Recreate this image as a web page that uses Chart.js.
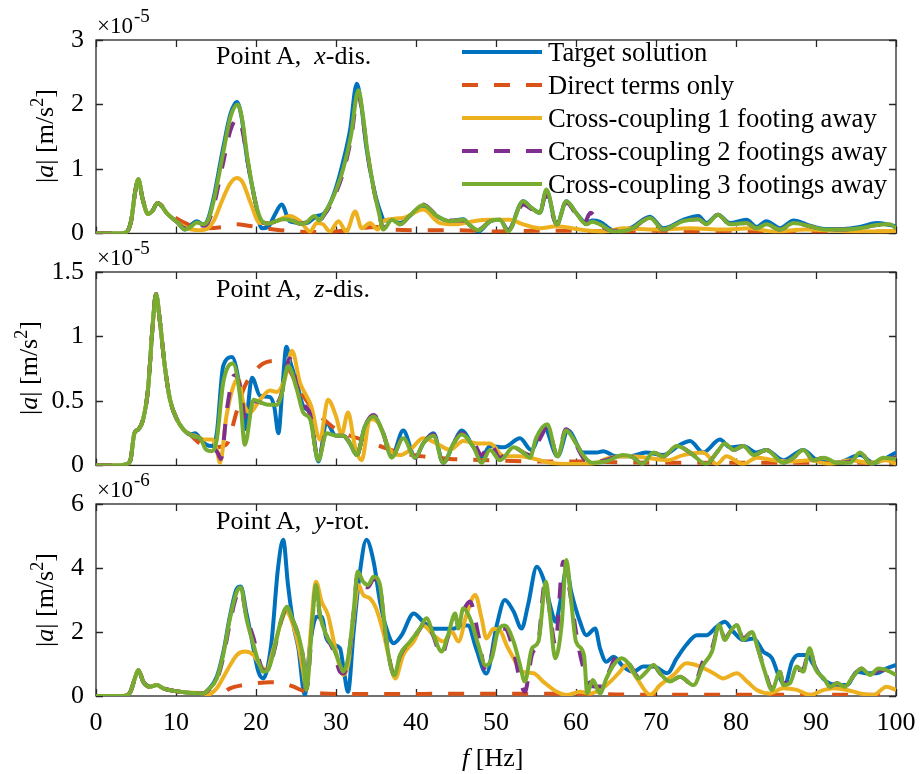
<!DOCTYPE html>
<html>
<head>
<meta charset="utf-8">
<script src="https://cdn.jsdelivr.net/npm/chart.js@4.4.1/dist/chart.umd.min.js"></script>
<style>
  body { margin: 0; background: #fff; }
  #fig { position: relative; width: 920px; height: 774px; overflow: hidden;
         font-family: "Liberation Serif", "Times New Roman", serif; color: #000; }
  #fig canvas { position: absolute; left: 0; }
  .txt { position: absolute; font-size: 26px; line-height: 1; white-space: pre; }
  .expo { position: absolute; font-size: 23px; line-height: 1; white-space: pre; left: 97px; }
  .expo span { font-size: 19px; position: relative; top: -11px; margin-left: 1px; }
  .ylab { position: absolute; left: 45px; font-size: 26px; line-height: 1; white-space: pre;
          transform: translate(-50%, -50%) rotate(-90deg); }
  .ylab sup { font-size: 18px; line-height: 0; }
  .leg { position: absolute; left: 462px; height: 33px; }
  .leg svg { position: absolute; left: 0; top: 0; }
  .leg span { position: absolute; left: 86px; top: 0; font-size: 26.6px; line-height: 1; white-space: pre; }
</style>
</head>
<body>
<div id="fig">
  <canvas id="c1" width="920" height="261" style="top:0px"></canvas>
  <canvas id="c2" width="920" height="261" style="top:232px"></canvas>
  <canvas id="c3" width="920" height="310" style="top:464px"></canvas>

  <div class="expo" style="top:14px">×10<span>-5</span></div>
  <div class="expo" style="top:246px">×10<span>-5</span></div>
  <div class="expo" style="top:478px">×10<span>-6</span></div>

  <div class="ylab" style="top:136px">|<i>a</i>| [m/s<sup>2</sup>]</div>
  <div class="ylab" style="top:368px; left:29px">|<i>a</i>| [m/s<sup>2</sup>]</div>
  <div class="ylab" style="top:600px">|<i>a</i>| [m/s<sup>2</sup>]</div>

  <div class="txt" style="left:216px; top:43px">Point A,  <i>x</i>-dis.</div>
  <div class="txt" style="left:216px; top:276px">Point A,  <i>z</i>-dis.</div>
  <div class="txt" style="left:216px; top:508px">Point A,  <i>y</i>-rot.</div>

  <div class="txt" style="left:462px; top:745px"><i>f</i> [Hz]</div>

  <div id="legend"></div>
</div>

<script>
// series
const seriesNames = ['Target solution', 'Direct terms only', 'Cross-coupling 1 footing away',
                     'Cross-coupling 2 footings away', 'Cross-coupling 3 footings away'];
const seriesColors = ['#0072BD', '#D95319', '#EDB120', '#7E2F8E', '#77AC30'];
const seriesDash = [[], [16, 16], [], [16, 16], []];

// tick labels
const freqTicks = [0, 10, 20, 30, 40, 50, 60, 70, 80, 90, 100];
const topTicks = [0, 1, 2, 3];        // x 1e-5
const midTicks = [0, 0.5, 1, 1.5];    // x 1e-5
const botTicks = [0, 2, 4, 6];        // x 1e-6

// ---- Point A, x-dis. (x 1e-5) : [f Hz, |a|]
const topCommon = [[0,0],[3,0],[3.8,0.02],[4.4,0.2],[4.9,0.65],[5.3,0.84],[5.8,0.55],[6.5,0.3],[7,0.34],[7.7,0.47],[8.3,0.41],[8.8,0.32],[9.5,0.24],[10.2,0.17]];
const topTarget = topCommon.concat([[11.1,0.06],[11.8,0.12],[12.6,0.19],[13.4,0.14],[14,0.22],[14.7,0.55],[15.9,1.33],[16.8,1.85],[17.6,2.04],[18.2,1.8],[18.8,1.23],[19.9,0.5],[20.7,0.08],[21.5,0.1],[22.4,0.3],[23.2,0.45],[24.2,0.19],[25.1,0.17],[26.3,0.16],[27.6,0.27],[28.4,0.3],[29.2,0.45],[30,0.71],[30.8,1.07],[31.75,1.6],[32.6,2.32],[33.2,1.95],[33.8,1.33],[34.7,0.71],[35.5,0.35],[36.1,0.2],[37,0.21],[38,0.16],[39.2,0.27],[40.9,0.42],[42.6,0.27],[44.2,0.19],[45.9,0.22],[46.8,0.12],[47.8,0.03],[49.3,0.19],[50.5,0.21],[51.5,0.05],[53.4,0.5],[54.4,0.4],[55.5,0.32],[56.3,0.66],[57.6,0.14],[58.8,0.5],[60,0.32],[61.3,0.16],[62,0.2],[63,0.18],[64.7,0.05],[66.75,0.08],[69.25,0.26],[70.9,0.08],[73.4,0.21],[75.3,0.27],[76.3,0.16],[77.75,0.29],[79.25,0.16],[81.3,0.21],[82.6,0.1],[83.8,0.19],[85.5,0.08],[87.2,0.2],[89.25,0.12],[91,0.07],[93.4,0.07],[95.5,0.1],[97.6,0.16],[99.25,0.13],[100,0.11]]);
const topDirect = topCommon.slice(0, 10).concat([[8.5,0.4],[9.5,0.28],[10.5,0.2],[12,0.12],[14,0.08],[16,0.1],[17.6,0.14],[19,0.12],[21,0.08],[23,0.05],[25,0.03],[28,0.02],[31,0.04],[33,0.08],[35,0.1],[37,0.06],[40,0.05],[45,0.05],[50,0.03],[55,0.04],[60,0.04],[65,0.03],[70,0.04],[75,0.03],[80,0.04],[85,0.03],[90,0.03],[95,0.03],[100,0.03]]);
const topCC1 = topCommon.concat([[11.1,0.1],[12,0.06],[13,0.05],[14,0.08],[14.7,0.19],[15.9,0.55],[16.8,0.78],[17.6,0.86],[18.3,0.8],[19.25,0.5],[20.5,0.16],[21.75,0.16],[23.4,0.24],[24.25,0.27],[25.5,0.19],[26.75,0.03],[27.6,0.16],[28.4,0.14],[29.25,0.03],[30.3,0.19],[31.3,0.03],[32.4,0.34],[33.2,0.08],[34.25,0.16],[35.2,0.06],[35.9,0.19],[38.4,0.24],[40.9,0.37],[43,0.16],[45,0.14],[47.2,0.19],[49.25,0.21],[51.75,0.21],[53.4,0.14],[55.5,0.08],[57.6,0.11],[60.5,0.06],[63.5,0.03],[65.9,0.08],[70,0.06],[74.25,0.08],[78.4,0.06],[81.75,0.08],[84.7,0.03],[88.8,0.06],[93,0.04],[97.2,0.03],[100,0.04]]);
const topCC2 = topCommon.concat([[11.1,0.08],[11.8,0.1],[12.6,0.15],[13.4,0.12],[14,0.17],[14.7,0.42],[15.9,1.1],[16.8,1.6],[17.7,1.78],[18.3,1.6],[18.9,1.15],[19.9,0.5],[20.7,0.2],[21.5,0.15],[22.5,0.19],[23.5,0.22],[24.5,0.2],[25.5,0.15],[26.3,0.17],[27.3,0.25],[27.9,0.2],[28.5,0.28],[29.3,0.44],[30.1,0.66],[30.9,0.95],[31.85,1.45],[32.8,2.15],[33.4,1.75],[33.9,1.28],[34.7,0.7],[35.4,0.3],[35.9,0.08],[37,0.21],[38,0.14],[39.2,0.27],[40.9,0.45],[42.6,0.28],[44.2,0.2],[45.9,0.2],[46.8,0.12],[47.8,0.06],[49.3,0.19],[50.5,0.21],[51.5,0.04],[53.4,0.45],[54.4,0.38],[55.5,0.32],[56.2,0.6],[57.6,0.14],[58.8,0.48],[60,0.3],[61,0.15],[61.8,0.32],[63,0.14],[64.7,0.04],[66.75,0.06],[69.25,0.24],[70.9,0.06],[73.4,0.19],[75.3,0.22],[76.3,0.14],[77.75,0.29],[79.25,0.14],[81.3,0.16],[82.6,0.08],[83.8,0.14],[85.5,0.06],[87.2,0.16],[89.25,0.11],[91,0.06],[93.4,0.06],[95.5,0.08],[97.6,0.13],[99.25,0.14],[100,0.08]]);
const topCC3 = topCommon.concat([[11.1,0.06],[11.8,0.1],[12.6,0.17],[13.4,0.14],[14,0.2],[14.7,0.5],[15.9,1.25],[16.8,1.8],[17.7,2.0],[18.3,1.75],[18.9,1.2],[19.9,0.5],[20.7,0.2],[21.5,0.15],[22.5,0.19],[23.5,0.22],[24.5,0.2],[25.5,0.15],[26.3,0.17],[27.3,0.27],[27.9,0.2],[28.5,0.3],[29.3,0.47],[30.1,0.7],[30.9,1.0],[31.85,1.5],[32.8,2.22],[33.4,1.8],[33.9,1.3],[34.7,0.7],[35.4,0.3],[35.9,0.06],[37,0.21],[38,0.14],[39.2,0.27],[40.9,0.44],[42.6,0.27],[44.2,0.19],[45.9,0.21],[46.8,0.12],[47.8,0.05],[49.3,0.19],[50.5,0.21],[51.5,0.03],[53.4,0.5],[54.4,0.4],[55.5,0.32],[56.3,0.68],[57.6,0.14],[58.8,0.5],[60,0.32],[61.3,0.14],[62,0.18],[63,0.14],[64.7,0.03],[66.75,0.06],[69.25,0.24],[70.9,0.06],[73.4,0.19],[75.3,0.22],[76.3,0.14],[77.75,0.29],[79.25,0.14],[81.3,0.16],[82.6,0.08],[83.8,0.14],[85.5,0.06],[87.2,0.16],[89.25,0.11],[91,0.06],[93.4,0.06],[95.5,0.08],[97.6,0.13],[99.25,0.14],[100,0.08]]);

// ---- Point A, z-dis. (x 1e-5)
const midCommon = [[0,0],[3,0],[3.8,0.01],[4.3,0.04],[4.8,0.25],[5.3,0.28],[5.9,0.36],[6.5,0.59],[7.1,1.1],[7.5,1.33],[8,1.11],[8.6,0.77],[9.25,0.51],[10.1,0.36],[10.9,0.28],[11.75,0.24]];
const midTarget = midCommon.concat([[12.4,0.25],[13,0.21],[13.8,0.16],[14.5,0.15],[15.1,0.25],[15.9,0.77],[17,0.84],[18,0.59],[18.6,0.28],[19.5,0.68],[20.5,0.54],[21.75,0.53],[22.3,0.45],[22.8,0.25],[23.3,0.6],[23.8,0.92],[24.3,0.8],[25.1,0.64],[25.9,0.46],[26.75,0.4],[27.8,0.03],[28.8,0.33],[30,0.23],[30.9,0.23],[31.75,0.17],[32.6,0.08],[33.6,0.3],[34.7,0.38],[35.9,0.25],[36.96,0.07],[38.4,0.27],[39.9,0.06],[40.9,0.17],[42.2,0.25],[43.4,0.02],[44.7,0.17],[45.7,0.27],[47.2,0.14],[48.2,0.06],[49.25,0.15],[51,0.14],[53,0.21],[54.4,0.12],[56,0.3],[57.7,0.07],[59,0.27],[60.9,0.1],[62.6,0.1],[63.4,0.11],[65,0.07],[66.75,0.07],[68.75,0.1],[70.9,0.08],[73,0.16],[74.25,0.19],[75.9,0.1],[78,0.2],[79.25,0.14],[80.9,0.15],[82.6,0.1],[83.8,0.12],[85.9,0.04],[88.4,0.12],[90.1,0.04],[92.6,0.02],[95.5,0.08],[97.2,0.02],[100,0.1]]);
const midDirect = midCommon.concat([[13,0.17],[14.5,0.14],[15.9,0.15],[16.5,0.18],[17.5,0.4],[18.5,0.6],[19.7,0.72],[20.9,0.79],[22.4,0.81],[23.4,0.8],[24.25,0.73],[25.5,0.58],[27.2,0.43],[28.4,0.36],[30,0.28],[31.75,0.23],[33.8,0.19],[35.9,0.14],[38,0.1],[40.9,0.07],[44.25,0.05],[49.25,0.04],[55,0.03],[60,0.03],[70,0.02],[80,0.02],[90,0.02],[100,0.02]]);
const midCC1 = midCommon.concat([[12.4,0.23],[13,0.21],[13.8,0.2],[14.5,0.2],[15.1,0.12],[15.5,0.02],[16.3,0.38],[17.2,0.62],[17.8,0.67],[18.4,0.49],[19.25,0.41],[20.5,0.51],[21.75,0.58],[22.6,0.57],[23.6,0.67],[24.5,0.89],[25.5,0.64],[26.3,0.54],[26.9,0.46],[28,0.2],[29,0.51],[30,0.38],[30.7,0.24],[31.5,0.41],[32.4,0.14],[33.2,0.04],[34.25,0.36],[35.3,0.33],[36.75,0.12],[38,0.08],[39.25,0.12],[40.9,0.21],[42.6,0.17],[44.25,0.12],[45.9,0.19],[47.75,0.17],[49.25,0.17],[51,0.07],[52.6,0.07],[54.25,0.06],[56.75,0.02],[59,0.01],[61.75,0.01],[64.25,0.06],[66.75,0.07],[68.75,0.06],[71.4,0.04],[73.4,0.08],[75.9,0.1],[77.6,0.01],[78.8,0.07],[80.9,0.01],[82.6,0.06],[84.7,0.04],[86.75,0.03],[89.25,0.04],[91.7,0.01],[94.25,0.04],[96.75,0.02],[98.8,0.04],[100,0.01]]);
const midCC2 = midCommon.concat([[12.4,0.22],[13,0.21],[13.8,0.15],[14.5,0.14],[15.2,0.1],[15.6,0.05],[16.4,0.45],[17.3,0.7],[18,0.62],[18.7,0.35],[19.7,0.5],[20.5,0.49],[21.5,0.47],[22.6,0.48],[23.4,0.6],[24.2,0.83],[25.1,0.62],[25.9,0.48],[26.75,0.4],[27.8,0.05],[28.8,0.26],[30,0.23],[30.9,0.23],[31.75,0.17],[32.6,0.08],[33.6,0.3],[34.7,0.39],[35.9,0.25],[36.96,0.06],[38.4,0.22],[39.9,0.06],[40.9,0.17],[42.2,0.24],[43.4,0.02],[44.7,0.17],[45.7,0.25],[47.2,0.18],[48.2,0.08],[49.25,0.17],[50.5,0.06],[52.2,0.14],[53.4,0.1],[54.25,0.08],[55.6,0.22],[56.4,0.3],[57.7,0.08],[58.75,0.28],[60,0.16],[61,0.05],[62,0.02],[63.7,0.04],[65.9,0.08],[67.2,0.06],[68.25,0.01],[69.7,0.1],[70.9,0.07],[72.6,0.15],[74.25,0.1],[76.3,0.01],[77.6,0.1],[78.6,0.17],[79.7,0.12],[80.9,0.15],[82.2,0.08],[83.8,0.12],[85.9,0.02],[87.2,0.06],[88.4,0.12],[89.7,0.04],[91,0.06],[92.6,0.02],[94.25,0.03],[95.5,0.1],[96.96,0.01],[98.4,0.06],[100,0.06]]);
const midCC3 = midCommon.concat([[12.4,0.22],[13,0.21],[13.8,0.12],[14.5,0.11],[15.1,0.2],[15.9,0.64],[17.1,0.79],[18,0.54],[18.6,0.16],[19.7,0.51],[20.5,0.49],[21.5,0.47],[22.6,0.47],[23.2,0.55],[24,0.77],[25.1,0.59],[25.9,0.41],[26.75,0.36],[27.8,0.04],[28.8,0.25],[30,0.23],[30.9,0.23],[31.75,0.17],[32.6,0.08],[33.6,0.3],[34.7,0.38],[35.9,0.25],[36.96,0.06],[38.4,0.21],[39.9,0.06],[40.9,0.17],[42.2,0.23],[43.4,0.02],[44.7,0.17],[45.7,0.24],[47.2,0.14],[48.2,0.02],[49.25,0.12],[50.5,0.04],[52.2,0.14],[53.4,0.1],[54.25,0.06],[55,0.21],[56.4,0.32],[57.7,0.07],[58.75,0.27],[60,0.17],[61,0.07],[62,0.02],[63.7,0.03],[65.9,0.08],[67.2,0.06],[68.25,0.01],[69.7,0.1],[70.9,0.07],[72.6,0.15],[74.25,0.1],[76.3,0.01],[77.6,0.1],[78.6,0.17],[79.7,0.12],[80.9,0.15],[82.2,0.08],[83.8,0.12],[85.9,0.02],[87.2,0.06],[88.4,0.12],[89.7,0.04],[91,0.06],[92.6,0.02],[94.25,0.02],[95.5,0.1],[96.96,0.01],[98.4,0.06],[100,0.05]]);

// ---- Point A, y-rot. (x 1e-6)
const botCommon = [[0,0],[3,0],[3.8,0.02],[4.3,0.13],[5,0.66],[5.3,0.81],[5.9,0.45],[6.75,0.29],[7.6,0.34],[8.4,0.24],[9.7,0.16],[11.3,0.11],[13.4,0.08]];
const botTarget = botCommon.concat([[14,0.19],[15.1,0.6],[15.9,1.35],[16.75,2.5],[17.6,3.35],[18.1,3.42],[18.8,2.6],[19.3,2.0],[20.3,0.76],[20.9,0.55],[21.9,1.6],[22.75,3.99],[23.4,4.88],[24,3.47],[24.7,2.2],[25.3,1.49],[26.1,0.03],[26.75,1.6],[27.6,2.48],[28.2,2.48],[28.8,1.8],[29.7,1.6],[30.5,1.49],[31,0.76],[31.5,0.13],[32.2,2.0],[33,3.89],[33.8,4.88],[34.7,4.2],[35.5,2.95],[36.3,2.11],[37.2,1.65],[38.2,1.9],[39.7,2.58],[40.9,2.32],[42.2,2.1],[43.4,2.1],[44.7,2.1],[45.5,2.2],[46.5,2.2],[47.5,1.5],[48.8,0.7],[50.1,2.22],[51.1,3.0],[52.2,2.64],[53.2,2.11],[54,2.84],[55.1,4.04],[55.9,3.68],[56.96,2.64],[57.4,2.32],[58.2,3.16],[58.8,3.99],[59.4,3.26],[60.5,2.32],[61.3,1.9],[62.4,2.11],[63,1.49],[63.8,1.07],[64.7,1.23],[65.9,0.92],[67.2,0.76],[68.4,0.92],[69.7,0.92],[71.4,0.71],[72.6,1.18],[73.8,1.6],[75.1,1.9],[76.3,1.9],[77.6,2.17],[78.6,2.32],[79.7,2.0],[80.9,1.75],[82.2,1.8],[83.4,1.39],[84.5,1.18],[85.3,0.66],[86.1,0.34],[87,1.07],[87.8,1.28],[88.8,1.28],[89.7,0.97],[90.5,0.66],[91.3,0.45],[92.6,0.34],[93.9,0.34],[95.1,0.76],[96.4,0.71],[97.6,0.71],[98.8,0.86],[100,0.97]]);
const botDirect = botCommon.concat([[15,0.05],[15.9,0.1],[16.75,0.24],[18.4,0.34],[20.1,0.4],[21.75,0.43],[23.4,0.4],[24.7,0.29],[25.9,0.16],[28.4,0.08],[32.6,0.06],[36.75,0.06],[45,0.07],[55,0.07],[60,0.07],[65,0.05],[70,0.04],[80,0.04],[90,0.04],[100,0.04]]);
const botCC1 = botCommon.concat([[14,0.05],[15.1,0.24],[16.3,0.76],[17.6,1.28],[18.6,1.39],[19.7,1.28],[20.5,0.97],[21.3,0.81],[22.2,1.49],[23,2.2],[23.8,2.63],[24.5,2.32],[25.3,1.59],[25.9,0.76],[26.3,0.2],[26.8,1.9],[27.5,3.57],[28.2,2.95],[29,2.53],[30,1.39],[30.9,0.66],[31.5,0.97],[32.2,2.43],[32.8,3.47],[33.4,3.16],[34.25,3.05],[35,2.74],[35.9,2.0],[36.75,1.07],[37.4,0.55],[38.4,1.28],[39.7,1.7],[40.9,2.2],[42.2,1.9],[43.4,1.7],[44.5,2.0],[45.3,1.7],[46.3,2.53],[47.4,3.16],[48.2,2.43],[48.8,1.8],[49.7,2.1],[50.5,2.05],[51.3,1.6],[52.2,1.18],[53.2,0.76],[54.7,0.71],[55.9,0.45],[57.6,0.13],[58.9,0.03],[60.5,0.13],[61.75,0.08],[63.8,0.34],[65.5,0.76],[66.3,0.97],[67.6,0.55],[68.75,0.13],[69.25,0.03],[70.5,0.34],[72.2,0.66],[73.8,1.02],[75.5,0.92],[77.2,0.71],[78.4,0.55],[80.1,0.71],[81.4,0.45],[82.6,0.19],[84.25,0.08],[85.9,0.24],[87.6,0.19],[89.25,0.03],[91,0.19],[92.2,0.24],[93.9,0.19],[95.5,0.08],[97.2,0.03],[98.8,0.29],[100,0.19]]);
const botCC2 = botCommon.concat([[14,0.17],[15.1,0.5],[15.9,1.2],[16.75,2.3],[17.6,3.15],[18.1,3.3],[18.8,2.5],[19.7,1.8],[20.3,1.2],[20.9,0.8],[21.5,0.8],[22.4,1.55],[23.2,2.4],[23.9,2.75],[24.5,2.43],[25.3,1.9],[25.9,1.18],[26.3,0.2],[27,2.1],[27.5,3.4],[28,2.5],[28.8,1.9],[29.7,1.4],[30.5,0.75],[30.9,0.7],[31.5,1.1],[32.2,2.6],[32.7,3.8],[33.4,3.45],[34,3.4],[34.7,3.65],[35.5,3.4],[35.9,2.6],[36.5,1.4],[37.3,0.65],[38,1.25],[39.25,1.7],[40.5,2.1],[41.3,2.4],[42.2,1.85],[43.2,1.28],[44,1.85],[44.9,2.5],[45.3,2.2],[46,2.7],[46.75,2.95],[47.8,1.9],[48.7,0.8],[49.5,1.3],[50.2,2.0],[51.1,2.1],[52.2,1.4],[53,0.5],[53.6,0.13],[54.5,1.3],[55.3,1.7],[56.1,3.5],[56.75,2.6],[57.4,1.6],[58.4,4.2],[59.4,3.0],[60,2.0],[60.6,1.2],[61.3,0.6],[62.2,0.3],[63.3,0.3],[64.2,0.8],[65,1.2],[65.7,1.1],[66.75,0.97],[67.8,0.6],[68.8,0.7],[69.7,0.95],[70.5,0.71],[71.75,0.45],[73,0.6],[74.7,0.34],[75.9,1.1],[77,1.5],[77.9,2.2],[78.6,1.8],[79.25,2.0],[80.1,2.2],[80.9,1.8],[82,2.0],[82.6,1.6],[83.6,0.8],[84.5,0.25],[85.5,0.75],[85.9,0.4],[86.75,0.5],[87.6,0.8],[88.4,0.85],[89.2,1.45],[89.9,0.9],[91,0.55],[91.75,0.3],[92.6,0.4],[93.6,0.3],[94.6,0.6],[95.7,0.86],[96.75,0.6],[97.8,0.8],[98.8,0.81],[100,0.7]]);
const botCC3 = botCommon.concat([[14,0.19],[15.1,0.55],[15.9,1.28],[16.75,2.43],[17.6,3.26],[18.1,3.39],[18.8,2.43],[19.7,1.59],[20.3,1.07],[20.9,0.76],[21.5,0.81],[22.4,1.6],[23.2,2.43],[23.9,2.79],[24.5,2.43],[25.3,1.9],[25.9,1.18],[26.3,0.2],[27,2.2],[27.5,3.47],[28,2.53],[28.8,1.9],[29.7,1.49],[30.5,0.97],[30.9,0.76],[31.5,1.18],[32.2,2.63],[32.7,3.89],[33.4,3.57],[34,3.47],[34.7,3.73],[35.5,3.47],[35.9,2.63],[36.5,1.39],[37.3,0.65],[38,1.28],[39.25,1.7],[40.5,2.11],[41.3,2.43],[42.2,1.9],[43.2,1.39],[44,1.9],[44.9,2.58],[45.3,2.11],[45.9,2.74],[46.75,2.43],[47.8,1.59],[48.7,0.95],[49.5,1.2],[50.2,2.0],[51.1,2.2],[52.2,1.7],[53,0.97],[53.6,0.45],[54.5,1.49],[55.3,1.7],[56.25,3.57],[56.75,2.53],[57.4,1.18],[58.2,2.22],[58.8,4.25],[59.4,2.95],[60,1.7],[61,1.28],[61.4,0.08],[62.1,0.5],[63,0.08],[63.8,0.55],[64.7,0.97],[65.7,1.18],[66.75,0.97],[67.8,0.55],[68.8,0.76],[69.7,0.97],[70.5,0.71],[71.75,0.45],[73,0.6],[74.7,0.34],[75.9,0.97],[77,1.39],[77.9,2.22],[78.6,1.75],[79.25,2.0],[80.1,2.22],[80.9,1.75],[82,2.0],[82.6,1.6],[83.6,0.76],[84.5,0.19],[85.5,0.76],[85.9,0.34],[86.75,0.4],[87.6,0.92],[88.4,0.76],[89.2,1.49],[89.9,0.86],[91,0.55],[91.75,0.29],[92.6,0.4],[93.6,0.29],[94.6,0.6],[95.7,0.86],[96.75,0.66],[97.8,0.86],[98.8,0.81],[100,0.66]]);

// Box with inward ticks (MATLAB style), drawn under the curves
const frame = {
    id: 'frame',
    beforeDatasetsDraw(chart) {
        const { ctx, chartArea: a, scales: { x, y } } = chart;
        ctx.save();
        ctx.strokeStyle = '#262626';
        ctx.lineWidth = 1.3;
        ctx.strokeRect(a.left, a.top, a.right - a.left, a.bottom - a.top);
        ctx.beginPath();
        x.ticks.forEach(t => {
            const px = Math.round(x.getPixelForValue(t.value)) + 0.5;
            ctx.moveTo(px, a.bottom); ctx.lineTo(px, a.bottom - 7);
            ctx.moveTo(px, a.top); ctx.lineTo(px, a.top + 7);
        });
        y.ticks.forEach(t => {
            const py = Math.round(y.getPixelForValue(t.value)) + 0.5;
            ctx.moveTo(a.left, py); ctx.lineTo(a.left + 7, py);
            ctx.moveTo(a.right, py); ctx.lineTo(a.right - 7, py);
        });
        ctx.stroke();
        ctx.restore();
    }
};

function makeChart(id, series, yTicks, showX) {
    const font = { family: 'Liberation Serif', size: 26 };
    return new Chart(document.getElementById(id), {
        type: 'line',
        data: {
            datasets: series.map((pts, i) => ({
                label: seriesNames[i],
                data: pts.map(p => ({ x: p[0], y: p[1] })),
                borderColor: seriesColors[i],
                borderWidth: 4,
                borderDash: seriesDash[i],
                pointRadius: 0,
                fill: false,
                cubicInterpolationMode: 'monotone',
                order: 4 - i
            }))
        },
        options: {
            responsive: false,
            animation: false,
            events: [],
            layout: { padding: { top: 40, right: 24, left: 0, bottom: showX ? 0 : 11 } },
            plugins: { legend: { display: false }, tooltip: { enabled: false } },
            scales: {
                x: {
                    type: 'linear', min: 0, max: 100,
                    afterBuildTicks: s => { s.ticks = freqTicks.map(v => ({ value: v })); },
                    afterFit: s => { s.height = showX ? 78 : 0; },
                    // padding 0 keeps the last label from widening the right margin;
                    // the tall line height pushes the labels down instead
                    ticks: { display: showX, font: { family: 'Liberation Serif', size: 26, lineHeight: '54px' },
                             color: '#000', padding: 0, maxRotation: 0, callback: v => String(v) },
                    grid: { display: false, drawTicks: false },
                    border: { display: false }
                },
                y: {
                    min: 0, max: yTicks[yTicks.length - 1],
                    afterBuildTicks: s => { s.ticks = yTicks.map(v => ({ value: v })); },
                    afterFit: s => { s.width = 96; },
                    ticks: { font: font, color: '#000', padding: 12, callback: v => String(v) },
                    grid: { display: false, drawTicks: false },
                    border: { display: false }
                }
            }
        },
        plugins: [frame]
    });
}

makeChart('c1', [topTarget, topDirect, topCC1, topCC2, topCC3], topTicks, false);
makeChart('c2', [midTarget, midDirect, midCC1, midCC2, midCC3], midTicks, false);
makeChart('c3', [botTarget, botDirect, botCC1, botCC2, botCC3], botTicks, true);

// Legend of the top panel
const legend = document.getElementById('legend');
seriesNames.forEach((name, i) => {
    const row = document.createElement('div');
    row.className = 'leg';
    row.style.top = (36 + 33 * i) + 'px';
    const dash = seriesDash[i].length ? ' stroke-dasharray="' + seriesDash[i].join(' ') + '"' : '';
    row.innerHTML = '<svg width="80" height="33"><line x1="0" y1="16" x2="80" y2="16" stroke="' +
        seriesColors[i] + '" stroke-width="4"' + dash + '/></svg><span style="top:3px">' + name + '</span>';
    legend.appendChild(row);
});
</script>
</body>
</html>
